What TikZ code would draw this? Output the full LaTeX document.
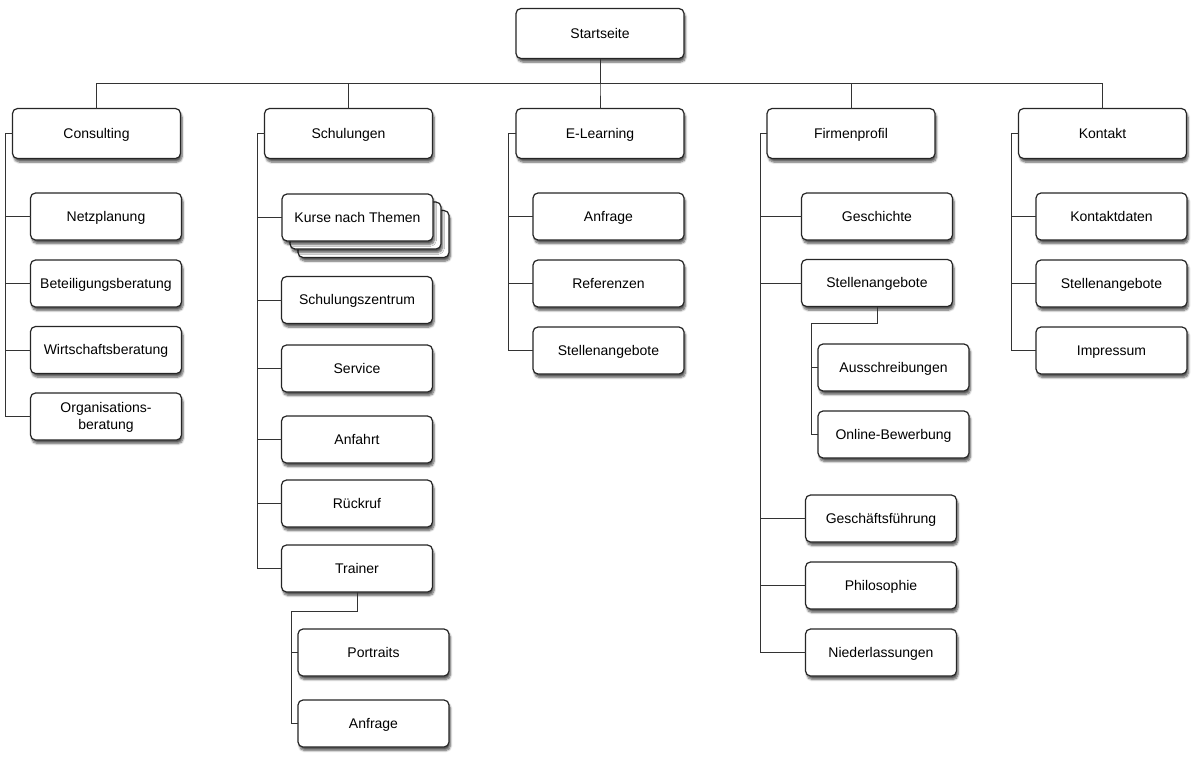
\documentclass[tikz,border=0pt]{standalone}
\usepackage{fontspec}
\setmainfont{Liberation Sans}
\usetikzlibrary{shadows.blur}

\begin{document}
\begin{tikzpicture}[x=1pt,y=-1pt]
  \tikzset{PageStyle/.style = {
    shape          = rectangle,
    rounded corners = 5pt,
    draw           = black!85,
    fill           = white,
    line width     = 1.2pt,
    text           = black,
    align          = center,
    font           = \fontsize{14}{17}\selectfont,
    text height    = 10pt,
    text depth     = 1pt,
    inner sep      = 2pt,
    outer sep      = 0pt,
    minimum width  = 151pt,
    minimum height = 47pt,
    blur shadow    = {shadow xshift=1.5pt, shadow yshift=-3.5pt,
                      shadow blur steps=6, shadow opacity=65}
    }
  }
  \tikzset{TopStyle/.style = {
    PageStyle,
    minimum width  = 168pt,
    minimum height = 50pt
    }
  }
  \tikzset{EdgeStyle/.style = {
    draw       = black!80,
    line width = 1pt
    }
  }

  \useasboundingbox (0,0) rectangle (1200,763);

	\node[TopStyle](A1) at (600, 33.5) {Startseite};
	\node[TopStyle](B1) at (96.5, 133.5) {Consulting};
	\node[TopStyle](B2) at (348.5, 133.5) {Schulungen};
	\node[TopStyle](B3) at (600, 133.5) {E-Learning};
	\node[TopStyle](B4) at (851, 133.5) {Firmenprofil};
	\node[TopStyle](B5) at (1102.5, 133.5) {Kontakt};
	\node[PageStyle](C11) at (106, 216.5) {Netzplanung};
	\node[PageStyle](C12) at (106, 283.5) {Beteiligungsberatung};
	\node[PageStyle](C13) at (106, 350) {Wirtschaftsberatung};
	\node[PageStyle, text height = 27pt](C14) at (106, 416.5) {Organisations-\\beratung};
	\node[PageStyle](C21c) at (373.5, 234) {};
	\node[PageStyle](C21b) at (365.5, 225.5) {};
	\node[PageStyle](C21) at (357.5, 217.5) {Kurse nach Themen};
	\node[PageStyle](C22) at (357, 300) {Schulungszentrum};
	\node[PageStyle](C23) at (357, 368.5) {Service};
	\node[PageStyle](C24) at (357, 439.5) {Anfahrt};
	\node[PageStyle](C25) at (357, 503.5) {Rückruf};
	\node[PageStyle](C26) at (357, 568.5) {Trainer};
	\node[PageStyle](D1) at (373.5, 652.5) {Portraits};
	\node[PageStyle](D2) at (373.5, 723.5) {Anfrage};
	\node[PageStyle](C31) at (608.5, 216.5) {Anfrage};
	\node[PageStyle](C32) at (608.5, 283.5) {Referenzen};
	\node[PageStyle](C33) at (608.5, 350.5) {Stellenangebote};
	\node[PageStyle](C41) at (877, 216.5) {Geschichte};
	\node[PageStyle](C42) at (877, 283) {Stellenangebote};
	\node[PageStyle](D3) at (893.5, 367.5) {Ausschreibungen};
	\node[PageStyle](D4) at (893.5, 434.5) {Online-Bewerbung};
	\node[PageStyle](C43) at (881, 518.5) {Geschäftsführung};
	\node[PageStyle](C44) at (881, 585.5) {Philosophie};
	\node[PageStyle](C45) at (881, 652.5) {Niederlassungen};
	\node[PageStyle](C51) at (1111.5, 216.5) {Kontaktdaten};
	\node[PageStyle](C52) at (1111.5, 283.5) {Stellenangebote};
	\node[PageStyle](C53) at (1111.5, 350.5) {Impressum};

	\foreach \b in {B1,B2,B3,B4,B5}
	  \draw[EdgeStyle](A1.south) -- ++(0, 24.5) -| (\b.north);
	\foreach \c in {C11,C12,C13,C14}
	  \draw[EdgeStyle](B1.west) -- ++(-7, 0) |- (\c.west);
	\foreach \c in {C21,C22,C23,C24,C25,C26}
	  \draw[EdgeStyle](B2.west) -- ++(-7, 0) |- (\c.west);
	\foreach \c in {C31,C32,C33}
	  \draw[EdgeStyle](B3.west) -- ++(-7.5, 0) |- (\c.west);
	\foreach \c in {C41,C42,C43,C44,C45}
	  \draw[EdgeStyle](B4.west) -- ++(-7, 0) |- (\c.west);
	\foreach \c in {C51,C52,C53}
	  \draw[EdgeStyle](B5.west) -- ++(-7.5, 0) |- (\c.west);
	\draw[EdgeStyle](C26.south) -- ++(0, 19.5) -| ([xshift=-7pt]D1.west) -- (D1.west);
	\draw[EdgeStyle]([xshift=-7pt]D1.west) |- (D2.west);
	\draw[EdgeStyle](C42.south) -- ++(0, 16.5) -| ([xshift=-7pt]D3.west) -- (D3.west);
	\draw[EdgeStyle]([xshift=-7pt]D3.west) |- (D4.west);

\end{tikzpicture}
\end{document}
